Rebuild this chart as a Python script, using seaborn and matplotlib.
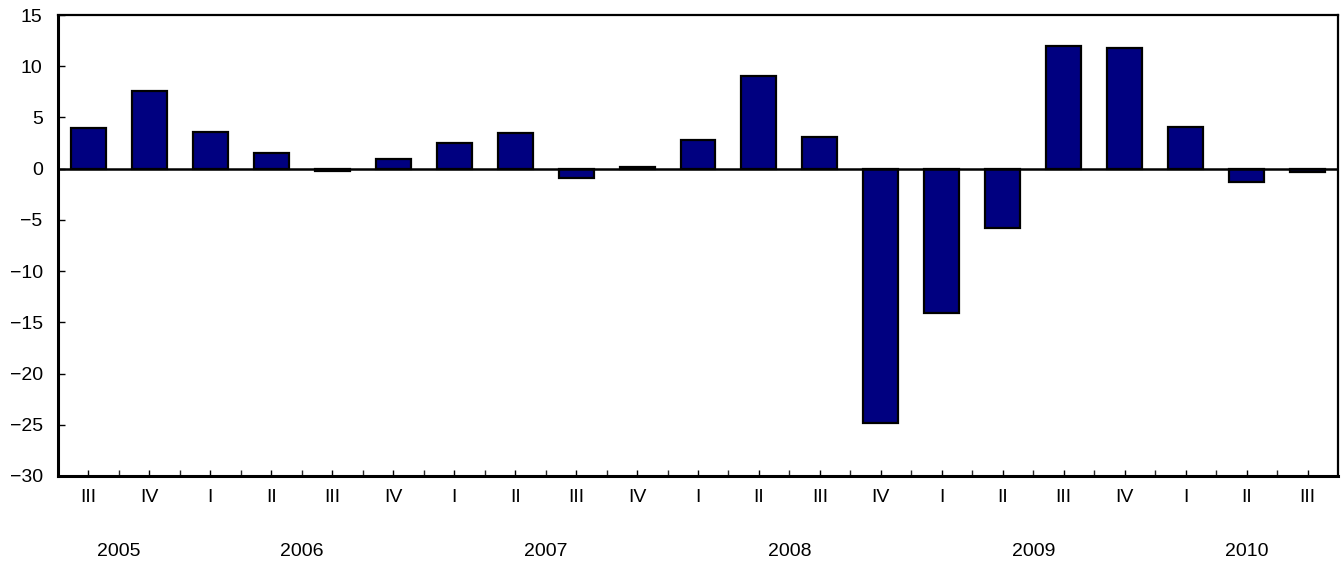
import matplotlib
matplotlib.use("Agg")
import matplotlib.pyplot as plt
import seaborn as sns
import pandas as pd
import numpy as np
from matplotlib.ticker import FixedLocator
import matplotlib.transforms as mtransforms

quarters = ["III", "IV", "I", "II", "III", "IV", "I", "II", "III", "IV", "I",
            "II", "III", "IV", "I", "II", "III", "IV", "I", "II", "III"]
periods = ["2005 III", "2005 IV", "2006 I", "2006 II", "2006 III", "2006 IV",
           "2007 I", "2007 II", "2007 III", "2007 IV", "2008 I", "2008 II",
           "2008 III", "2008 IV", "2009 I", "2009 II", "2009 III", "2009 IV",
           "2010 I", "2010 II", "2010 III"]
values = [4.0, 7.6, 3.6, 1.5, -0.2, 0.9, 2.5, 3.5, -0.9, 0.15, 2.8, 9.05,
          3.1, -24.8, -14.1, -5.8, 12.0, 11.75, 4.1, -1.27, -0.33]
years = ["2005", "2006", "2007", "2008", "2009", "2010"]
year_pos = [0.5, 3.5, 7.5, 11.5, 15.5, 19.0]
yticks = [15, 10, 5, 0, -5, -10, -15, -20, -25, -30]

df = pd.DataFrame({"period": periods, "value": values})

sns.set_style("white")
plt.rcParams["font.family"] = ["Liberation Sans", "DejaVu Sans"]
FS = 14

fig = plt.figure(figsize=(13.41, 5.64), dpi=100)
ax = fig.add_axes([58 / 1341, 1 - 476 / 564, (1338 - 58) / 1341, (476 - 15) / 564])

sns.barplot(data=df, x="period", y="value", order=periods, color="#000080",
            saturation=1, width=0.574, edgecolor="black", linewidth=1.6, ax=ax)

ax.axhline(0, color="black", lw=1.8, zorder=3)
ax.set_xlim(-0.5, len(periods) - 0.5)
ax.set_ylim(-30, 15)
ax.set_yticks(yticks)
ax.set_yticklabels([str(t).replace("-", "\u2212") for t in yticks], fontsize=FS)
ax.set_xticks(range(len(periods)))
ax.set_xticklabels(quarters, fontsize=FS)
ax.xaxis.set_minor_locator(FixedLocator(np.arange(0.5, len(periods) - 0.5, 1)))
ax.set_xlabel("")
ax.set_ylabel("")

ax.tick_params(axis="x", which="major", direction="in", length=4, width=1,
               pad=9.5, colors="black", bottom=True)
ax.tick_params(axis="x", which="minor", direction="in", length=4, width=1,
               bottom=True)
ax.tick_params(axis="y", direction="in", length=5, width=1, pad=11,
               left=True, colors="black")

for side, sp in ax.spines.items():
    sp.set_visible(True)
    sp.set_color("black")
    sp.set_linewidth(2.2 if side in ("left", "bottom") else 1.6)

trans = mtransforms.blended_transform_factory(ax.transData, ax.transAxes)
for y, p in zip(years, year_pos):
    ax.text(p, -75 / 461, y, transform=trans, ha="center", va="center",
            fontsize=FS, color="black")

fig.savefig("out.png", dpi=100)
